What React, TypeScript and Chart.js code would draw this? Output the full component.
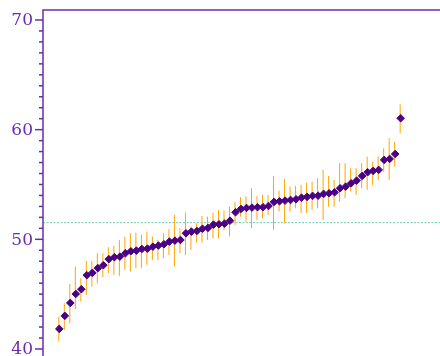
import React, { useEffect, useRef } from "react";
import { Chart, registerables } from "chart.js";

Chart.register(...registerables);

const values = [41.83, 43.02, 44.2, 45.02, 45.45, 46.73, 46.94, 47.37, 47.64, 48.19, 48.37, 48.42, 48.73, 48.91, 48.97, 49.12, 49.15, 49.33, 49.43, 49.55, 49.79, 49.88, 49.94, 50.55, 50.7, 50.76, 50.97, 51.04, 51.34, 51.38, 51.43, 51.7, 52.47, 52.77, 52.86, 52.89, 52.93, 52.93, 53.04, 53.41, 53.47, 53.53, 53.59, 53.65, 53.8, 53.87, 53.96, 53.98, 54.14, 54.2, 54.29, 54.66, 54.8, 55.11, 55.35, 55.78, 56.12, 56.24, 56.33, 57.24, 57.33, 57.78, 61.04];
const lower = [40.67, 41.74, 42.35, 43.63, 44.32, 44.93, 45.69, 46.0, 46.55, 46.91, 46.75, 46.66, 47.21, 47.06, 47.37, 47.37, 47.67, 48.12, 48.12, 48.28, 48.58, 47.51, 48.73, 48.58, 49.03, 49.7, 49.7, 49.94, 50.09, 50.09, 50.85, 50.25, 51.31, 52.07, 51.61, 51.01, 51.77, 51.92, 52.22, 50.86, 52.53, 51.47, 52.53, 52.83, 52.38, 52.38, 52.68, 52.83, 51.77, 52.98, 52.98, 53.44, 53.75, 54.35, 54.05, 54.66, 54.5, 54.96, 55.41, 56.17, 55.41, 56.63, 59.67];
const upper = [42.95, 44.17, 45.93, 47.51, 46.45, 48.03, 48.03, 48.73, 48.73, 49.28, 49.4, 49.94, 50.24, 50.55, 50.61, 50.4, 50.7, 50.24, 49.94, 50.55, 50.92, 52.22, 51.0, 52.43, 51.16, 51.46, 52.13, 52.07, 52.43, 52.68, 52.62, 52.98, 53.44, 53.84, 53.9, 54.66, 53.96, 54.05, 54.05, 55.78, 54.44, 55.48, 54.8, 54.87, 54.96, 55.17, 55.26, 55.57, 56.33, 55.78, 55.41, 56.94, 56.94, 56.48, 56.48, 56.94, 57.54, 57.08, 57.54, 58.3, 59.22, 58.9, 62.31];
const ranks = values.map((_, i) => i + 1);
const referenceValue = 51.52;
const tickLabels = [40, 50, 60, 70];
const minorTicks = Array.from({ length: 31 }, (_, i) => 40 + i);

const AXIS = "#6a2eaa";

const decorPlugin = {
  id: "decor",
  beforeDatasetsDraw(chart: any) {
    const { ctx, chartArea, scales } = chart;
    const xs = scales.x;
    const ys = scales.y;
    ctx.save();
    const yr = ys.getPixelForValue(referenceValue);
    ctx.strokeStyle = "rgba(70,185,150,0.8)";
    ctx.lineWidth = 1;
    ctx.setLineDash([2, 1.5]);
    ctx.beginPath();
    ctx.moveTo(chartArea.left, yr);
    ctx.lineTo(chartArea.right, yr);
    ctx.stroke();
    ctx.setLineDash([]);
    ctx.strokeStyle = "#ffa500";
    ctx.lineWidth = 1;
    ranks.forEach((r, i) => {
      const x = xs.getPixelForValue(r) - 0.5;
      ctx.beginPath();
      ctx.moveTo(x, ys.getPixelForValue(upper[i]));
      ctx.lineTo(x, ys.getPixelForValue(lower[i]));
      ctx.stroke();
    });
    ctx.restore();
  },
  afterDraw(chart: any) {
    const { ctx, chartArea, scales } = chart;
    const ys = scales.y;
    ctx.save();
    ctx.strokeStyle = AXIS;
    ctx.lineWidth = 1.5;
    ctx.beginPath();
    ctx.moveTo(chartArea.left, chartArea.bottom);
    ctx.lineTo(chartArea.left, chartArea.top);
    ctx.lineTo(chartArea.right, chartArea.top);
    ctx.stroke();
    minorTicks.forEach((v) => {
      const y = ys.getPixelForValue(v);
      const len = v % 10 === 0 ? 8 : 4;
      ctx.beginPath();
      ctx.moveTo(chartArea.left - len, y);
      ctx.lineTo(chartArea.left, y);
      ctx.stroke();
    });
    ctx.fillStyle = AXIS;
    ctx.font = '17px "DejaVu Serif"';
    ctx.textAlign = "right";
    ctx.textBaseline = "middle";
    tickLabels.forEach((v) => {
      ctx.fillText(String(v), chartArea.left - 10, ys.getPixelForValue(v) + 1);
    });
    ctx.restore();
  },
};

export default function App() {
  const ref = useRef<HTMLCanvasElement>(null);
  useEffect(() => {
    if (!ref.current) return;
    const chart = new Chart(ref.current, {
      type: "scatter",
      data: {
        datasets: [
          {
            data: ranks.map((r, i) => ({ x: r, y: values[i] })),
            pointStyle: "rectRot",
            pointRadius: 3.8,
            backgroundColor: "#4b0082",
            borderColor: "#4b0082",
            borderWidth: 1,
          },
        ],
      },
      options: {
        animation: false,
        responsive: false,
        maintainAspectRatio: false,
        layout: { autoPadding: false, padding: { top: 10, left: 43, right: 0, bottom: 0 } },
        plugins: { legend: { display: false }, tooltip: { enabled: false } },
        scales: {
          x: { type: "linear", min: -1.96, max: 70.14, display: false },
          y: { type: "linear", min: 39.36, max: 70.91, display: false },
        },
      },
      plugins: [decorPlugin],
    });
    return () => chart.destroy();
  }, []);
  return (
    <div style={{ position: "fixed", left: 0, top: 0, width: 440, height: 356, overflow: "hidden", background: "#fff" }}>
      <canvas ref={ref} width={440} height={356} style={{ display: "block" }} />
    </div>
  );
}
